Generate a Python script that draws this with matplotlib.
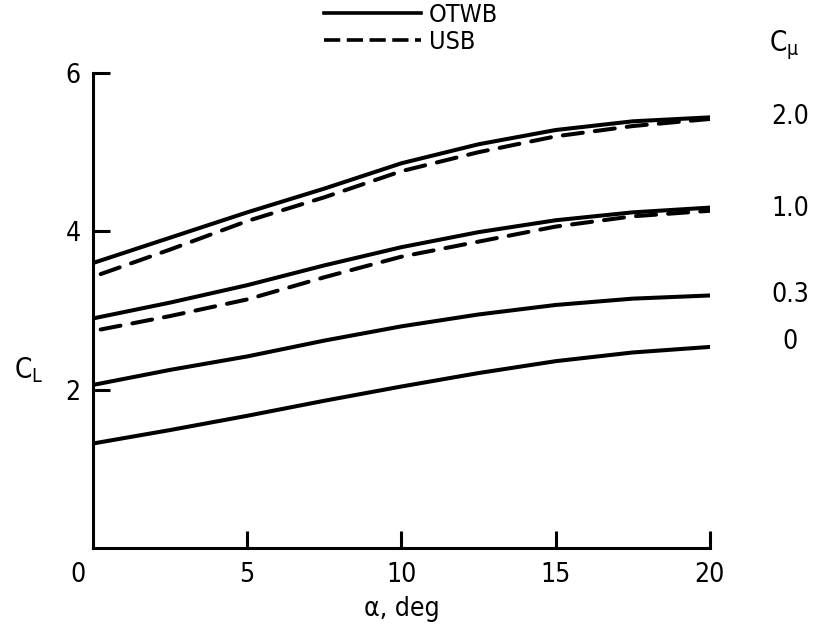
import numpy as np
import matplotlib
matplotlib.use("Agg")
import matplotlib.pyplot as plt
from matplotlib.lines import Line2D

plt.rcParams['font.family'] = ['DejaVu Sans']
plt.rcParams['font.stretch'] = 'condensed'

# angle of attack, deg
alpha = [0, 2.5, 5, 7.5, 10, 12.5, 15, 17.5, 20]
alpha_usb = [0.25, 2.5, 5, 7.5, 10, 12.5, 15, 17.5, 20]

# lift coefficient, OTWB (solid)
otwb_cmu_2 = [3.60, 3.92, 4.24, 4.54, 4.86, 5.10, 5.28, 5.39, 5.44]
otwb_cmu_1 = [2.90, 3.10, 3.32, 3.57, 3.80, 3.99, 4.14, 4.24, 4.30]
otwb_cmu_03 = [2.06, 2.25, 2.42, 2.62, 2.80, 2.95, 3.07, 3.15, 3.19]
otwb_cmu_0 = [1.32, 1.49, 1.67, 1.86, 2.04, 2.21, 2.36, 2.47, 2.54]

# lift coefficient, USB (dashed)
usb_cmu_2 = [3.46, 3.77, 4.13, 4.43, 4.76, 5.00, 5.20, 5.33, 5.42]
usb_cmu_1 = [2.76, 2.93, 3.14, 3.42, 3.68, 3.87, 4.06, 4.19, 4.26]

cmu_labels = ['2.0', '1.0', '0.3', '0']
cmu_label_y = [5.44, 4.28, 3.19, 2.60]

fig = plt.figure(figsize=(8.17, 6.35), dpi=100)
ax = fig.add_axes([0.1138, 0.137, 0.755, 0.748])

lw = 2.9
for cl in [otwb_cmu_2, otwb_cmu_1, otwb_cmu_03, otwb_cmu_0]:
    ax.plot(alpha, cl, color='black', lw=lw, solid_capstyle='round',
            solid_joinstyle='round')
for cl in [usb_cmu_2, usb_cmu_1]:
    ax.plot(alpha_usb, cl, color='black', lw=lw, dashes=(5, 3),
            dash_capstyle='round')

ax.set_xlim(0, 20)
ax.set_ylim(0, 6)
ax.spines['top'].set_visible(False)
ax.spines['right'].set_visible(False)
for s in ['left', 'bottom']:
    ax.spines[s].set_linewidth(2.2)

ax.set_xticks([5, 10, 15, 20])
ax.set_xticklabels(['5', '10', '15', '20'])
ax.set_yticks([2, 4, 6])
ax.set_yticklabels(['2', '4', '6'])
ax.tick_params(direction='in', length=12, width=2.2, labelsize=19, pad=9)
ax.tick_params(axis='x', pad=10)
ax.annotate('0', xy=(0, 0), xytext=(-15, -27), textcoords='offset pixels',
            ha='center', va='center', fontsize=19, annotation_clip=False)

ax.set_xlabel('α, deg', fontsize=19, labelpad=6)
ax.set_ylabel(r'$\mathrm{C_L}$', fontsize=20, rotation=0, ha='center', va='center')
ax.yaxis.set_label_coords(-0.105, 0.375)

for lab, y in zip(cmu_labels, cmu_label_y):
    ax.text(22.6, y, lab, fontsize=19, ha='center', va='center', clip_on=False)
ax.text(22.4, 6.35, r'$\mathrm{C_\mu}$', fontsize=20, ha='center', va='center',
        clip_on=False)

handles = [Line2D([], [], color='black', lw=2.6),
           Line2D([], [], color='black', lw=2.6, dashes=(4.5, 1.8))]
leg = ax.legend(handles, ['OTWB', 'USB'], loc='upper left',
                bbox_to_anchor=(0.374, 1.148), frameon=False, fontsize=18,
                handlelength=3.9, handletextpad=0.3, labelspacing=0.12,
                borderaxespad=0, borderpad=0)

fig.savefig('out.png', dpi=100)
